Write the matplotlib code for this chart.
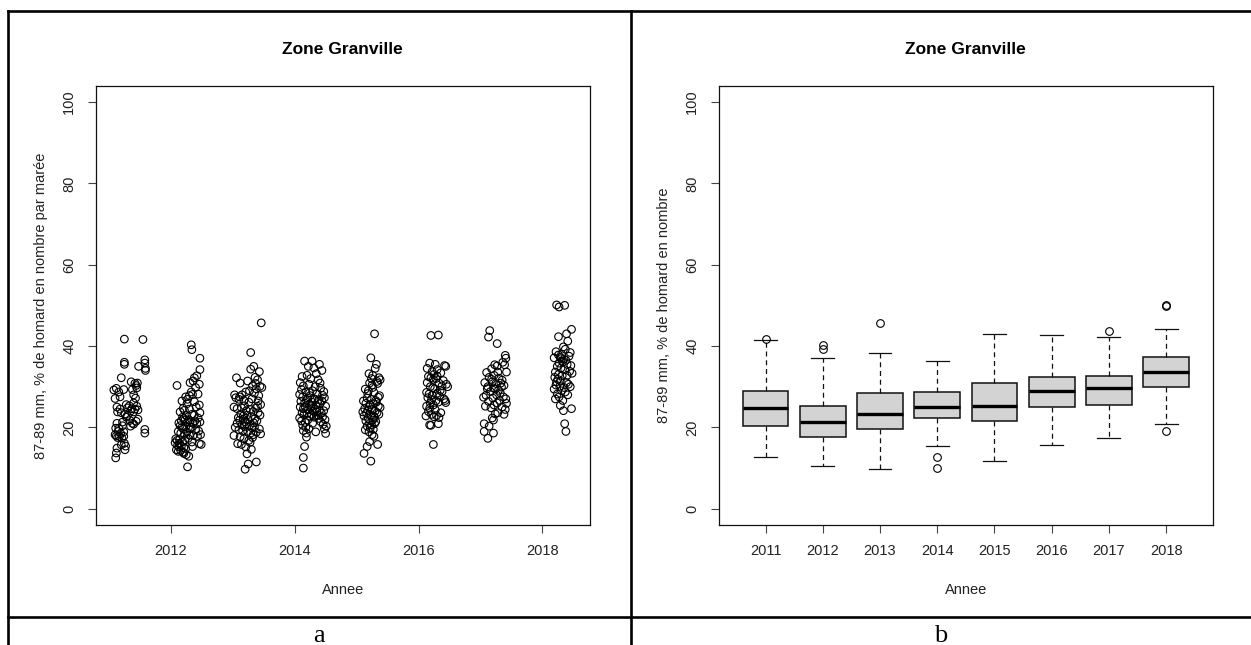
import numpy as np
import matplotlib
matplotlib.use("Agg")
import matplotlib.pyplot as plt
from matplotlib.lines import Line2D

# fonts close to R's default Helvetica/Arial
plt.rcParams["font.family"] = "Liberation Sans"

# ---- data -----------------------------------------------------------------
title = "Zone Granville"
ylab_a = "87-89 mm, % de homard en nombre par marée"
ylab_b = "87-89 mm, % de homard en nombre"
xlab = "Annee"

years = [2011, 2012, 2013, 2014, 2015, 2016, 2017, 2018]

# panel a: one point per trip, x = year + fraction of the year
frac_2011 = [0.25, 0.55, 0.25, 0.25, 0.48, 0.58, 0.58, 0.59, 0.59, 0.20, 0.36, 0.42, 0.44, 0.46, 0.08, 0.12, 0.16, 0.10,
             0.18, 0.24, 0.38, 0.40, 0.43, 0.45, 0.40, 0.13, 0.18, 0.28, 0.30, 0.33, 0.35, 0.37, 0.40, 0.42, 0.45, 0.47,
             0.26, 0.28, 0.20, 0.14, 0.30, 0.34, 0.38, 0.44, 0.47, 0.13, 0.11, 0.16, 0.22, 0.24, 0.19, 0.15, 0.22, 0.35,
             0.40, 0.58, 0.58, 0.12, 0.14, 0.17, 0.21, 0.24, 0.10, 0.13, 0.12, 0.20, 0.25, 0.27, 0.11, 0.26]
pct_2011 = [41.7, 41.6, 36.0, 35.5, 35.0, 36.6, 35.8, 34.5, 34.0, 32.2, 31.2, 30.8, 30.3, 30.9, 29.2, 29.6, 28.7, 27.1,
            27.5, 29.3, 29.3, 28.0, 27.2, 29.7, 26.0, 25.0, 24.5, 25.6, 24.8, 25.3, 24.0, 24.6, 23.8, 24.5, 25.2, 24.3,
            23.3, 22.5, 23.6, 23.8, 22.9, 21.7, 21.0, 21.5, 22.0, 21.0, 19.8, 19.8, 20.4, 18.9, 18.5, 19.0, 21.3, 20.3,
            20.8, 19.5, 18.6, 17.9, 17.5, 17.8, 17.3, 17.8, 18.2, 14.9, 13.7, 15.7, 16.1, 15.4, 12.5, 14.5]

frac_2012 = [0.33, 0.34, 0.47, 0.47, 0.42, 0.38, 0.36, 0.46, 0.31, 0.10, 0.40, 0.33, 0.35, 0.30, 0.44, 0.24, 0.27, 0.18,
             0.38, 0.46, 0.41, 0.20, 0.22, 0.15, 0.30, 0.34, 0.47, 0.25, 0.19, 0.21, 0.23, 0.17, 0.27, 0.29, 0.31, 0.36,
             0.39, 0.42, 0.44, 0.47, 0.13, 0.15, 0.18, 0.20, 0.24, 0.33, 0.40, 0.45, 0.12, 0.16, 0.22, 0.26, 0.30, 0.36,
             0.43, 0.48, 0.08, 0.10, 0.14, 0.19, 0.23, 0.28, 0.34, 0.46, 0.49, 0.07, 0.11, 0.13, 0.17, 0.21, 0.09, 0.12,
             0.16, 0.20, 0.24, 0.25, 0.29, 0.21, 0.35, 0.27, 0.14, 0.31, 0.38, 0.26]
pct_2012 = [40.3, 39.1, 37.0, 34.2, 32.7, 32.2, 31.4, 30.6, 31.0, 30.3, 29.8, 28.7, 28.1, 27.8, 28.2, 27.5, 26.9, 26.5,
            26.3, 25.5, 25.0, 24.7, 24.2, 23.8, 24.5, 23.2, 23.6, 22.9, 22.5, 22.1, 21.8, 21.6, 21.4, 21.9, 21.2, 21.0,
            21.6, 20.9, 22.3, 21.3, 21.1, 20.4, 20.0, 19.6, 20.2, 20.0, 19.4, 19.1, 19.0, 18.6, 18.3, 18.9, 18.1, 18.0,
            17.8, 18.2, 17.2, 16.8, 17.0, 16.5, 16.9, 17.3, 16.4, 16.0, 15.8, 16.2, 15.6, 15.2, 15.4, 15.0, 14.5, 14.1,
            14.3, 13.9, 14.8, 13.3, 12.9, 13.6, 15.3, 10.3, 16.1, 19.7, 23.0, 25.8]

frac_2013 = [0.46, 0.29, 0.34, 0.29, 0.43, 0.06, 0.36, 0.40, 0.24, 0.12, 0.32, 0.44, 0.47, 0.38, 0.27, 0.21, 0.03, 0.05,
             0.15, 0.35, 0.42, 0.10, 0.18, 0.26, 0.31, 0.45, 0.40, 0.02, 0.07, 0.14, 0.19, 0.22, 0.28, 0.33, 0.37, 0.41,
             0.13, 0.17, 0.23, 0.30, 0.36, 0.44, 0.09, 0.11, 0.20, 0.25, 0.34, 0.39, 0.07, 0.15, 0.19, 0.22, 0.27, 0.31,
             0.35, 0.43, 0.04, 0.10, 0.16, 0.24, 0.29, 0.33, 0.38, 0.45, 0.02, 0.12, 0.18, 0.26, 0.32, 0.08, 0.14, 0.21,
             0.28, 0.23, 0.25, 0.38, 0.20, 0.30, 0.17, 0.41, 0.37, 0.11]
pct_2013 = [45.7, 38.4, 35.0, 34.3, 33.7, 32.2, 32.3, 31.7, 31.4, 30.9, 30.2, 30.1, 29.8, 29.5, 29.0, 28.7, 28.0, 27.3,
            28.0, 28.4, 27.8, 26.9, 26.6, 26.2, 27.0, 25.6, 25.2, 25.0, 24.6, 24.8, 25.3, 24.1, 24.4, 23.9, 24.7, 23.6,
            23.3, 22.8, 23.0, 22.6, 22.2, 23.0, 22.4, 21.8, 21.4, 21.9, 21.1, 21.6, 21.0, 20.6, 20.2, 20.9, 20.4, 19.9,
            20.1, 19.6, 20.0, 19.4, 19.1, 19.0, 18.6, 18.2, 18.8, 18.4, 18.0, 17.7, 17.2, 16.8, 17.5, 16.0, 15.8, 15.2,
            16.3, 13.5, 11.0, 11.5, 9.7, 14.6, 22.0, 26.5, 30.8, 27.5]

frac_2014 = [0.16, 0.28, 0.40, 0.44, 0.22, 0.31, 0.35, 0.12, 0.20, 0.26, 0.38, 0.09, 0.14, 0.23, 0.33, 0.42, 0.47, 0.11,
             0.18, 0.29, 0.36, 0.45, 0.08, 0.13, 0.21, 0.25, 0.32, 0.39, 0.48, 0.10, 0.16, 0.19, 0.24, 0.28, 0.34, 0.37,
             0.41, 0.44, 0.50, 0.09, 0.14, 0.17, 0.22, 0.26, 0.30, 0.33, 0.36, 0.40, 0.43, 0.47, 0.12, 0.15, 0.20, 0.24,
             0.27, 0.31, 0.35, 0.39, 0.45, 0.49, 0.08, 0.11, 0.17, 0.21, 0.29, 0.42, 0.46, 0.51, 0.13, 0.18, 0.23, 0.14,
             0.19, 0.48, 0.50, 0.34, 0.19, 0.16, 0.14, 0.14, 0.27, 0.32, 0.38, 0.24, 0.41]
pct_2014 = [36.3, 36.3, 35.5, 34.0, 35.0, 34.6, 33.2, 32.5, 32.8, 32.0, 31.7, 31.0, 30.2, 30.6, 30.0, 29.6, 28.8, 29.3,
            28.7, 29.0, 28.3, 27.9, 28.1, 27.5, 27.2, 27.8, 27.0, 26.8, 27.3, 26.4, 26.0, 26.6, 25.7, 26.2, 25.5, 26.1,
            25.8, 26.5, 25.2, 25.0, 24.6, 25.1, 24.3, 24.8, 24.0, 24.5, 23.8, 24.2, 23.5, 24.1, 23.6, 23.1, 23.4, 22.8,
            23.2, 22.5, 22.9, 22.2, 22.6, 21.9, 22.3, 21.6, 21.2, 21.8, 21.0, 21.4, 20.7, 20.3, 20.5, 20.0, 19.7, 19.2,
            18.6, 19.6, 18.5, 18.9, 17.6, 15.3, 12.6, 10.0, 25.3, 26.9, 23.0, 28.5, 30.9]

frac_2015 = [0.29, 0.23, 0.32, 0.30, 0.20, 0.26, 0.36, 0.38, 0.33, 0.21, 0.25, 0.34, 0.14, 0.19, 0.28, 0.37, 0.17, 0.24,
             0.31, 0.11, 0.15, 0.22, 0.27, 0.35, 0.38, 0.13, 0.18, 0.20, 0.25, 0.30, 0.33, 0.16, 0.23, 0.28, 0.36, 0.12,
             0.19, 0.26, 0.31, 0.21, 0.24, 0.29, 0.17, 0.22, 0.27, 0.14, 0.20, 0.25, 0.28, 0.34, 0.17, 0.12, 0.23, 0.32,
             0.18, 0.26, 0.10, 0.35, 0.29, 0.15, 0.21, 0.24]
pct_2015 = [43.0, 37.1, 35.5, 34.5, 33.2, 32.8, 32.2, 31.7, 31.3, 30.9, 30.4, 30.8, 29.4, 29.0, 28.6, 27.8, 27.2, 26.9,
            26.6, 26.5, 25.9, 25.5, 25.8, 25.2, 24.9, 24.6, 24.2, 25.0, 24.4, 24.0, 23.6, 23.5, 23.0, 22.7, 23.2, 22.8,
            22.2, 21.8, 21.4, 21.0, 20.6, 20.9, 20.3, 19.8, 19.5, 19.4, 18.9, 18.2, 17.8, 15.8, 15.3, 13.6, 11.7, 26.2,
            28.3, 29.8, 23.8, 27.4, 22.4, 21.6, 16.5, 32.0]

frac_2016 = [0.20, 0.32, 0.18, 0.27, 0.42, 0.44, 0.14, 0.22, 0.25, 0.30, 0.36, 0.16, 0.20, 0.24, 0.28, 0.40, 0.45, 0.47,
             0.33, 0.38, 0.19, 0.26, 0.35, 0.13, 0.17, 0.22, 0.30, 0.34, 0.41, 0.15, 0.21, 0.28, 0.32, 0.43, 0.44, 0.24,
             0.13, 0.18, 0.27, 0.36, 0.16, 0.21, 0.25, 0.29, 0.33, 0.12, 0.18, 0.20, 0.32, 0.24, 0.38, 0.14, 0.30, 0.23,
             0.19]
pct_2016 = [42.6, 42.7, 35.8, 35.5, 35.2, 35.0, 34.5, 33.7, 33.0, 32.6, 33.4, 32.5, 32.2, 31.8, 32.0, 31.5, 30.6, 30.0,
            30.9, 30.2, 30.0, 29.5, 29.1, 28.6, 28.2, 27.9, 28.4, 27.6, 27.0, 27.3, 26.8, 26.5, 26.2, 26.6, 26.1, 25.5,
            25.2, 24.7, 24.3, 23.6, 23.9, 23.2, 22.6, 22.9, 22.4, 22.8, 20.6, 20.5, 20.9, 15.8, 28.8, 31.0, 34.2, 29.7,
            26.0]

frac_2017 = [0.15, 0.13, 0.27, 0.40, 0.41, 0.36, 0.39, 0.23, 0.27, 0.18, 0.10, 0.28, 0.42, 0.22, 0.14, 0.30, 0.35, 0.07,
             0.19, 0.25, 0.33, 0.38, 0.12, 0.21, 0.24, 0.29, 0.16, 0.32, 0.05, 0.09, 0.20, 0.26, 0.37, 0.41, 0.13, 0.31,
             0.08, 0.17, 0.22, 0.35, 0.40, 0.28, 0.38, 0.19, 0.21, 0.24, 0.42, 0.06, 0.14, 0.06, 0.21, 0.12, 0.11, 0.34,
             0.27, 0.18]
pct_2017 = [43.8, 42.2, 40.6, 37.7, 37.0, 36.0, 35.4, 35.4, 35.1, 34.4, 33.5, 33.6, 33.6, 32.8, 32.3, 32.1, 31.6, 31.0,
            31.2, 30.8, 30.9, 30.3, 30.0, 29.7, 29.4, 29.1, 28.8, 28.5, 27.4, 27.9, 27.2, 28.0, 27.5, 27.0, 26.4, 26.6,
            25.2, 24.8, 25.5, 25.0, 24.4, 23.6, 23.2, 22.3, 21.8, 23.3, 25.9, 20.9, 20.3, 19.0, 18.6, 17.3, 29.5, 29.9,
            26.0, 31.8]

frac_2018 = [0.23, 0.27, 0.36, 0.47, 0.39, 0.26, 0.41, 0.34, 0.37, 0.22, 0.45, 0.31, 0.43, 0.19, 0.29, 0.35, 0.38, 0.33,
             0.27, 0.40, 0.46, 0.24, 0.30, 0.36, 0.44, 0.48, 0.21, 0.26, 0.32, 0.20, 0.25, 0.29, 0.39, 0.42, 0.22, 0.28,
             0.35, 0.19, 0.31, 0.37, 0.24, 0.41, 0.27, 0.21, 0.33, 0.29, 0.34, 0.47, 0.36, 0.38, 0.30, 0.23, 0.40, 0.26,
             0.45]
pct_2018 = [50.1, 49.6, 50.0, 44.1, 43.0, 42.3, 41.2, 39.8, 39.2, 38.6, 38.4, 38.0, 37.5, 37.1, 37.2, 36.8, 36.5, 36.1,
            35.8, 35.5, 35.2, 35.0, 34.6, 34.2, 33.8, 33.3, 33.6, 33.0, 32.7, 32.3, 31.8, 31.4, 31.0, 30.6, 30.4, 30.1,
            29.8, 29.4, 29.0, 28.7, 28.2, 28.0, 27.5, 27.0, 26.6, 25.4, 24.1, 24.6, 20.9, 19.0, 36.9, 31.2, 32.8, 37.8,
            30.0]

fracs = [frac_2011, frac_2012, frac_2013, frac_2014, frac_2015, frac_2016, frac_2017, frac_2018]
pcts = [pct_2011, pct_2012, pct_2013, pct_2014, pct_2015, pct_2016, pct_2017, pct_2018]

# panel b: boxplot statistics
q1 = [20.3, 17.6, 19.7, 22.4, 21.6, 24.9, 25.4, 30.0]
med = [24.7, 21.3, 23.4, 25.0, 25.2, 29.0, 29.6, 33.6]
q3 = [28.9, 25.3, 28.5, 28.7, 30.9, 32.3, 32.6, 37.2]
whis_lo = [12.6, 10.5, 9.8, 15.3, 11.8, 15.7, 17.4, 20.8]
whis_hi = [41.6, 37.0, 38.4, 36.3, 43.0, 42.7, 42.2, 44.1]
outliers = [[41.7], [40.3, 39.2], [45.7], [12.6, 10.0], [], [], [43.8], [50.1, 49.8, 19.0]]

# ---- figure -----------------------------------------------------------------
W, H = 1251, 645
fig = plt.figure(figsize=(W / 100, H / 100), dpi=100)

def style_axes(ax, ylab):
    ax.set_ylim(-4, 104)
    ax.set_yticks([0, 20, 40, 60, 80, 100])
    for s in ax.spines.values():
        s.set_linewidth(0.9)
        s.set_color("#111111")
    ax.tick_params(direction="out", length=6, width=0.8, color="#444444",
                   labelsize=10.5, pad=8, labelcolor="#222222")
    for lab in ax.get_yticklabels():
        lab.set_rotation(90)
        lab.set_va("center")
    ax.set_title(title, fontsize=12.5, fontweight="bold", pad=23)
    ax.set_xlabel(xlab, fontsize=10.5, color="#222222", labelpad=18)
    ax.set_ylabel(ylab, fontsize=10.5, color="#222222", labelpad=10)

# panel a: scatter
ax1 = fig.add_axes([95.7 / W, 1 - 525 / H, 494.3 / W, 439.3 / H])
for yr, fr, pc in zip(years, fracs, pcts):
    ax1.scatter(yr + np.array(fr), pc, s=30, facecolors="none",
                edgecolors="black", linewidths=0.8)
ax1.set_xlim(2010.787, 2018.769)
ax1.set_xticks([2012, 2014, 2016, 2018])
style_axes(ax1, ylab_a)

# panel b: boxplot
ax2 = fig.add_axes([718.7 / W, 1 - 525 / H, 494.3 / W, 439.3 / H])
stats = []
for i in range(len(years)):
    stats.append(dict(med=med[i], q1=q1[i], q3=q3[i], whislo=whis_lo[i],
                      whishi=whis_hi[i], fliers=outliers[i]))
ax2.bxp(stats, positions=years, widths=0.8, capwidths=0.4, patch_artist=True,
        boxprops=dict(facecolor="#d3d3d3", edgecolor="#111111", linewidth=1.1),
        medianprops=dict(color="black", linewidth=2.4),
        whiskerprops=dict(color="#111111", linewidth=0.9, linestyle=(0, (4, 3))),
        capprops=dict(color="#111111", linewidth=0.9),
        flierprops=dict(marker="o", markersize=5.5, markerfacecolor="none",
                        markeredgecolor="black", markeredgewidth=0.8))
ax2.set_xlim(2010.18, 2018.82)
ax2.set_xticks(years)
ax2.set_xticklabels([str(y) for y in years])
style_axes(ax2, ylab_b)

# table frame around the two panels
lw = 1.9
fig.add_artist(Line2D([7.5 / W, 1], [1 - 11 / H, 1 - 11 / H], color="black", lw=lw, transform=fig.transFigure))
fig.add_artist(Line2D([7.5 / W, 1], [1 - 617 / H, 1 - 617 / H], color="black", lw=lw, transform=fig.transFigure))
fig.add_artist(Line2D([7.5 / W, 7.5 / W], [0, 1 - 11 / H], color="black", lw=lw, transform=fig.transFigure))
fig.add_artist(Line2D([630.7 / W, 630.7 / W], [0, 1 - 11 / H], color="black", lw=lw, transform=fig.transFigure))

fig.text(319 / W, 1 - 642 / H, "a", fontsize=19, family="Liberation Serif", ha="center", va="baseline")
fig.text(941 / W, 1 - 642 / H, "b", fontsize=19, family="Liberation Serif", ha="center", va="baseline")

fig.savefig("out.png", dpi=100)
